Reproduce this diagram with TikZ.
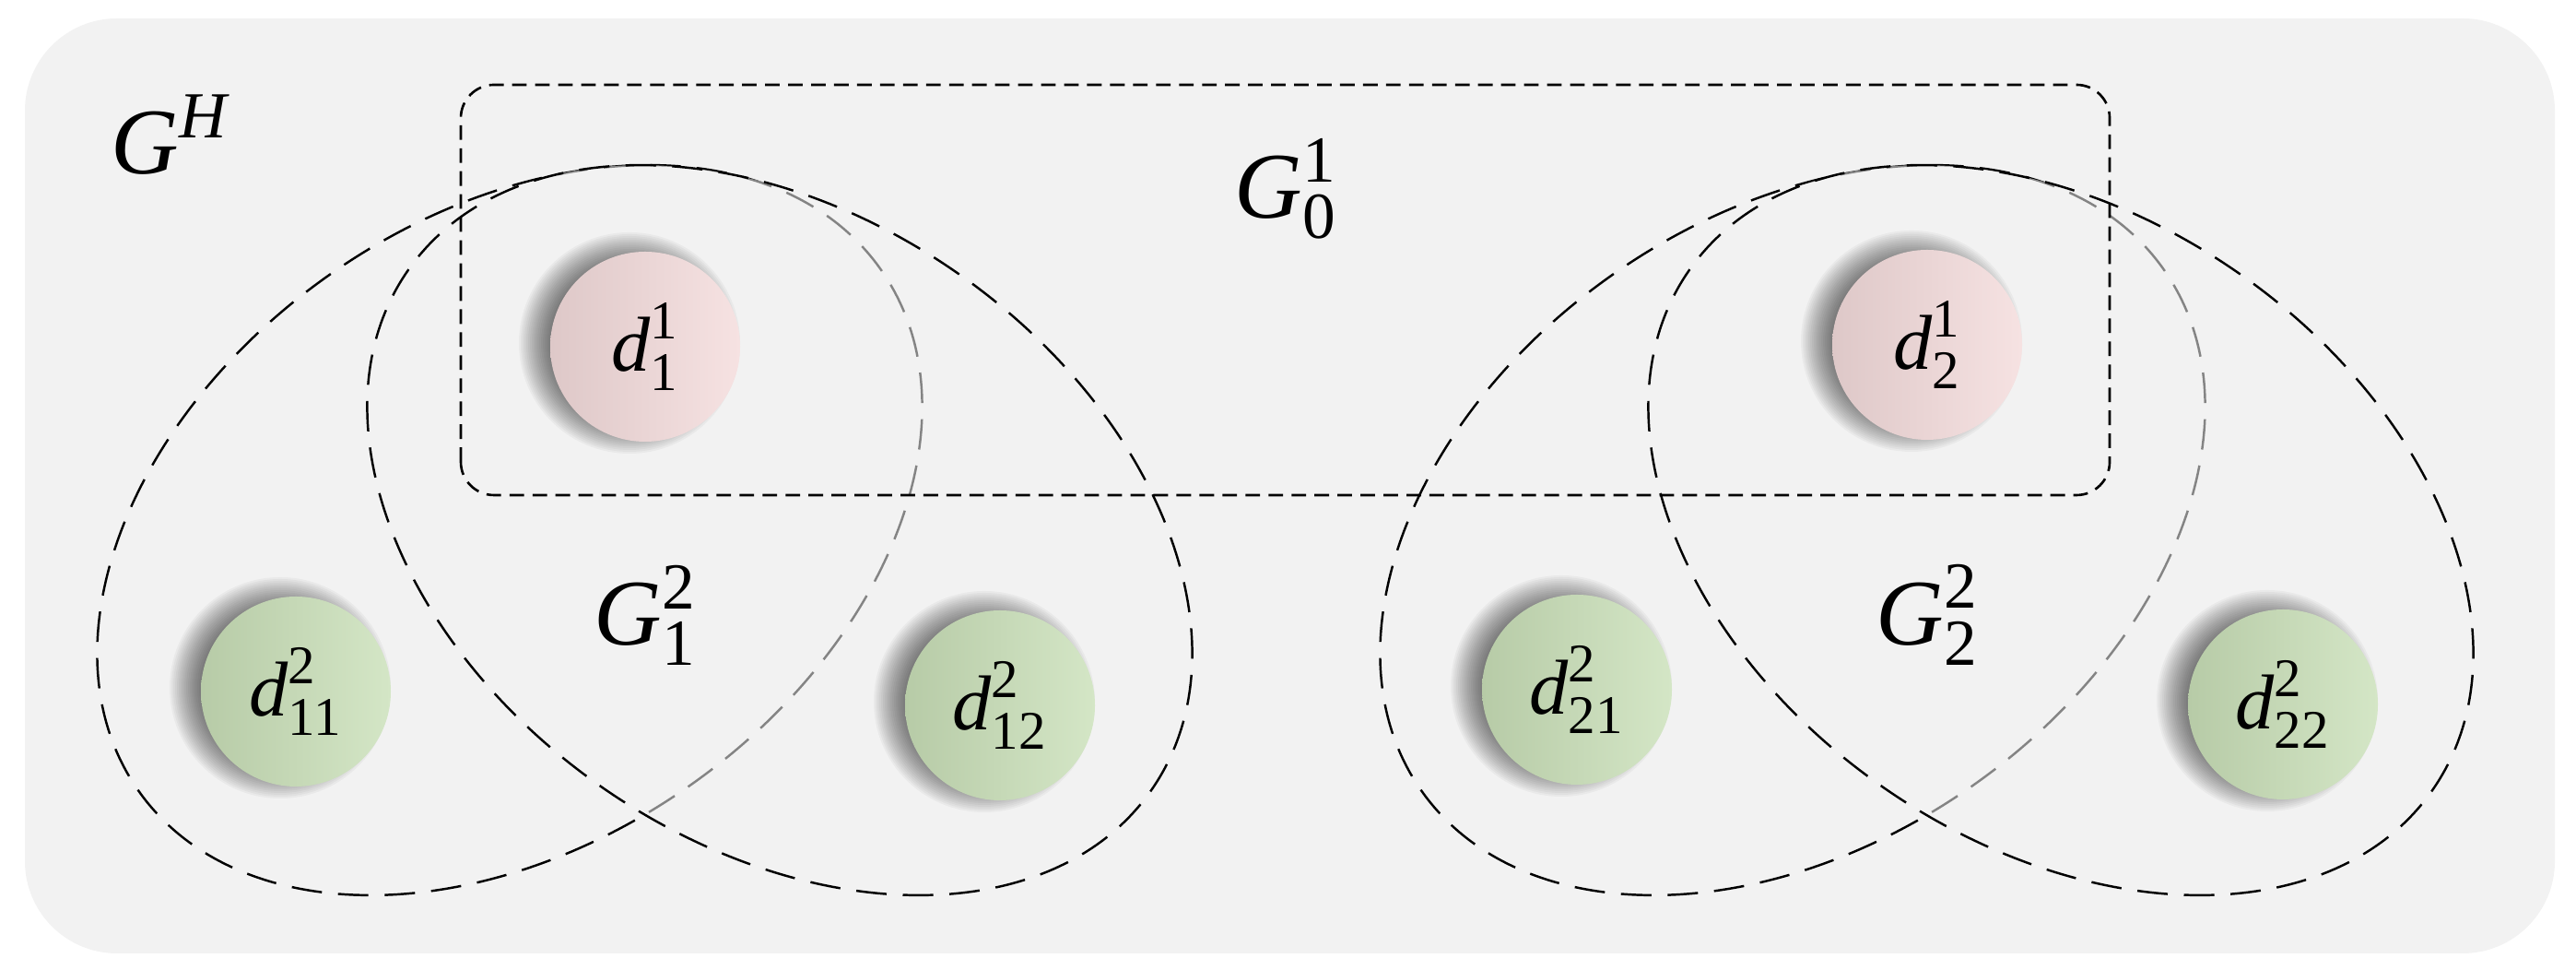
\documentclass[tikz,border=0pt]{standalone}
\usepackage{fontspec}
\usepackage{amsmath}
\setmainfont{Liberation Serif}
\definecolor{bggray}{RGB}{242,242,242}
\definecolor{pinkdark}{RGB}{222,200,200}
\definecolor{pinklight}{RGB}{246,226,226}
\definecolor{greendark}{RGB}{183,203,167}
\definecolor{greenlight}{RGB}{212,230,198}
\def\dropshade(#1){\foreach \r in {0.80,0.82,...,1.201} \fill[black, opacity=0.035] ([xshift=-1.7mm, yshift=0.4mm]#1) circle (\r);}
\tikzset{
	dnode/.style={circle, minimum size=2.06cm, inner sep=0pt, font=\fontsize{24}{28}\selectfont},
	rednode/.style={dnode, left color=pinkdark, middle color=pinkdark, right color=pinklight},
	greennode/.style={dnode, left color=greendark, middle color=greendark, right color=greenlight},
	glabel/.style={font=\fontsize{29}{34}\selectfont},
	groupline/.style={line width=0.7pt, dash pattern=on 9.4pt off 5pt},
	boxline/.style={line width=0.75pt, dash pattern=on 4.5pt off 2.6pt}
}

\begin{document}
\begin{tikzpicture}
			%%%%% START %%%%%
			\useasboundingbox (0, 0) rectangle (27.95, 10.52);
			
			\fill[bggray, rounded corners=1cm] (0.27, 0.18) rectangle (27.72, 10.32);
			
			% left group
			\draw[groupline, rotate around={35:(5.53, 4.77)}] (5.53, 4.77) ellipse (4.92 and 3.39);
			\draw[groupline, fill=bggray, fill opacity=0.55, rotate around={-35:(8.46, 4.77)}] (8.46, 4.77) ellipse (4.92 and 3.39);
			
			% right group
			\draw[groupline, rotate around={35:(19.45, 4.77)}] (19.45, 4.77) ellipse (4.92 and 3.39);
			\draw[groupline, fill=bggray, fill opacity=0.55, rotate around={-35:(22.36, 4.77)}] (22.36, 4.77) ellipse (4.92 and 3.39);
			
			\draw[boxline, rounded corners=0.36cm] (5.00, 5.15) rectangle (22.89, 9.60);
			
			\node[glabel] (gh) at (1.84, 9.06) {$\textit{G}^{\textit{H}}$};
			\node[glabel] (g01) at (13.95, 8.47) {$\textit{G}^{\text{1}}_{\text{0}}$};
			\node[glabel] (g12) at (7.00, 3.85) {$\textit{G}^{\text{2}}_{\text{1}}$};
			\node[glabel] (g22) at (20.91, 3.85) {$\textit{G}^{\text{2}}_{\text{2}}$};
			
			% circle centres
			\coordinate (c11) at (7.00, 6.76);
			\coordinate (c21) at (20.91, 6.78);
			\coordinate (c211) at (3.21, 3.02);
			\coordinate (c212) at (10.85, 2.87);
			\coordinate (c221) at (17.11, 3.04);
			\coordinate (c222) at (24.77, 2.88);
			
			\dropshade(c11);
			\dropshade(c21);
			\dropshade(c211);
			\dropshade(c212);
			\dropshade(c221);
			\dropshade(c222);
			
			\node[rednode] (d11) at (c11) {$\textit{d}^{\text{1}}_{\text{1}}$};
			\node[rednode] (d21) at (c21) {$\textit{d}^{\text{1}}_{\text{2}}$};
			
			\node[greennode] (d211) at (c211) {$\textit{d}^{\text{2}}_{\text{11}}$};
			\node[greennode] (d212) at (c212) {$\textit{d}^{\text{2}}_{\text{12}}$};
			\node[greennode] (d221) at (c221) {$\textit{d}^{\text{2}}_{\text{21}}$};
			\node[greennode] (d222) at (c222) {$\textit{d}^{\text{2}}_{\text{22}}$};
			
			%%%%% END %%%%%
\end{tikzpicture}
\end{document}
